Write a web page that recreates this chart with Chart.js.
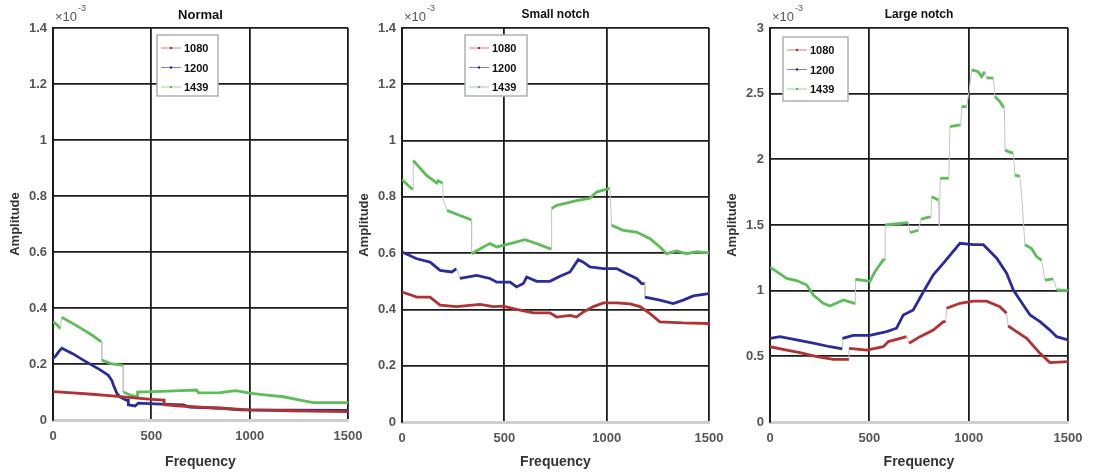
<!DOCTYPE html>
<html>
<head>
<meta charset="utf-8">
<script src="https://cdn.jsdelivr.net/npm/chart.js@4.4.1/dist/chart.umd.min.js"></script>
<style>
  body { margin: 0; background: #fff; width: 1093px; height: 475px; overflow: hidden; position: relative; }
  canvas { position: absolute; top: 0; }
</style>
</head>
<body>
<canvas id="c1" width="372" height="475" style="left:0px"></canvas>
<canvas id="c2" width="378" height="475" style="left:355px"></canvas>
<canvas id="c3" width="375" height="475" style="left:718px"></canvas>
<script>
const seriesNames = ['1080', '1200', '1439'];
const panelTitles = ['Normal', 'Small notch', 'Large notch'];
const xTicks = [0, 500, 1000, 1500];
const yTicksSmall = [0, 0.2, 0.4, 0.6, 0.8, 1, 1.2, 1.4];
const yTicksLarge = [0, 0.5, 1, 1.5, 2, 2.5, 3];

const normal1080 = [[0,0.101],[100,0.097],[200,0.092],[300,0.086],[400,0.080],[500,0.074],[565,0.071],[565,0.055],[650,0.050],[750,0.046],[850,0.042],[1000,0.036],[1200,0.033],[1500,0.030]];
const normal1200 = [[0,0.22],[15,0.23],[30,0.245],[45,0.256],[100,0.237],[154,0.214],[200,0.195],[240,0.179],[281,0.16],[300,0.14],[307,0.125],[325,0.095],[340,0.083],[372,0.071],[383,0.071],[383,0.054],[417,0.05],[434,0.06],[550,0.057],[662,0.054],[695,0.046],[866,0.042],[950,0.036],[1200,0.035],[1500,0.034]];
const normal1439 = [[0,0.351],[20,0.340],[38,0.327],[44,0.367],[100,0.345],[160,0.320],[205,0.300],[240,0.282],[248,0.282],[248,0.214],[300,0.200],[350,0.196],[357,0.196],[357,0.10],[390,0.09],[425,0.083],[430,0.083],[430,0.10],[550,0.102],[650,0.105],[730,0.107],[740,0.097],[850,0.098],[930,0.105],[1000,0.096],[1100,0.088],[1171,0.083],[1250,0.072],[1323,0.062],[1500,0.062]];

const small1080 = [[0,0.462],[40,0.452],[72,0.444],[137,0.444],[186,0.415],[267,0.41],[381,0.418],[446,0.41],[495,0.412],[560,0.40],[642,0.388],[723,0.388],[756,0.373],[821,0.379],[853,0.373],[886,0.391],[935,0.41],[984,0.423],[1049,0.423],[1114,0.42],[1163,0.41],[1212,0.385],[1260,0.356],[1374,0.352],[1500,0.35]];
const small1200 = [[0,0.604],[72,0.58],[137,0.568],[186,0.539],[243,0.533],[267,0.545],[283,0.51],[365,0.521],[430,0.51],[463,0.497],[528,0.497],[560,0.48],[593,0.492],[609,0.515],[658,0.50],[723,0.50],[772,0.518],[821,0.533],[861,0.577],[886,0.568],[918,0.551],[984,0.545],[1049,0.545],[1098,0.527],[1146,0.51],[1171,0.492],[1187,0.492],[1187,0.444],[1260,0.433],[1325,0.421],[1374,0.433],[1423,0.448],[1500,0.456]];
const small1439 = [[0,0.861],[47,0.829],[55,0.829],[55,0.929],[120,0.876],[170,0.849],[177,0.857],[198,0.849],[202,0.787],[220,0.752],[283,0.734],[336,0.719],[340,0.719],[340,0.598],[397,0.622],[430,0.634],[463,0.622],[528,0.634],[601,0.648],[658,0.634],[722,0.616],[731,0.616],[731,0.758],[756,0.77],[853,0.787],[918,0.795],[951,0.817],[1008,0.829],[1016,0.829],[1024,0.699],[1081,0.681],[1146,0.675],[1212,0.651],[1260,0.622],[1293,0.598],[1342,0.608],[1391,0.598],[1440,0.605],[1500,0.601]];

const large1080 = [[0,0.573],[84,0.548],[151,0.528],[235,0.497],[319,0.477],[398,0.477],[398,0.561],[487,0.548],[570,0.573],[596,0.612],[688,0.65],[700,0.60],[755,0.65],[822,0.70],[873,0.764],[885,0.764],[889,0.866],[956,0.904],[1023,0.92],[1090,0.92],[1157,0.878],[1191,0.828],[1199,0.731],[1241,0.688],[1292,0.637],[1359,0.523],[1409,0.452],[1500,0.459]];
const large1200 = [[0,0.637],[50,0.65],[134,0.625],[218,0.60],[302,0.573],[365,0.556],[365,0.637],[419,0.66],[503,0.66],[587,0.688],[637,0.714],[671,0.815],[721,0.853],[772,0.992],[822,1.12],[873,1.209],[956,1.361],[1023,1.35],[1074,1.35],[1141,1.247],[1191,1.133],[1225,1.005],[1275,0.891],[1309,0.815],[1359,0.764],[1409,0.70],[1443,0.65],[1500,0.625]];
const large1439 = [[0,1.179],[84,1.094],[134,1.077],[185,1.043],[218,0.967],[268,0.904],[302,0.883],[369,0.929],[425,0.904],[430,0.904],[430,1.087],[503,1.071],[528,1.145],[570,1.234],[580,1.234],[580,1.50],[696,1.518],[705,1.442],[747,1.46],[760,1.544],[797,1.56],[810,1.56],[814,1.716],[848,1.69],[852,1.487],[857,1.856],[889,1.856],[900,1.856],[906,2.249],[948,2.26],[960,2.26],[965,2.401],[990,2.401],[1002,2.516],[1015,2.681],[1048,2.668],[1065,2.63],[1082,2.668],[1090,2.62],[1124,2.618],[1132,2.478],[1157,2.44],[1174,2.40],[1180,2.40],[1183,2.07],[1216,2.05],[1225,2.05],[1233,1.88],[1258,1.87],[1266,1.74],[1275,1.54],[1283,1.35],[1317,1.32],[1342,1.259],[1367,1.23],[1384,1.08],[1426,1.09],[1444,1.005],[1500,1.0]];

const lineColors = ['#b03232', '#2b2b9c', '#5dbd58'];
const FONT = "'Liberation Sans', Arial, sans-serif";

// steep jumps are drawn as thin grey risers like in the original
function steep(ctx) {
    const dx = Math.abs(ctx.p1.x - ctx.p0.x);
    const dy = Math.abs(ctx.p1.y - ctx.p0.y);
    return dy > 5 && dy > dx * 2.5;
}

const decor = {
    id: 'decor',
    afterDraw(chart, args, opts) {
        const ctx = chart.ctx;
        const a = chart.chartArea;
        ctx.save();
        // title
        ctx.fillStyle = '#111';
        ctx.font = 'bold ' + opts.titleSize + 'px ' + FONT;
        ctx.textAlign = 'center';
        ctx.textBaseline = 'middle';
        ctx.fillText(opts.title, (a.left + a.right) / 2, a.top - 13);
        // exponent
        ctx.fillStyle = '#555';
        ctx.textAlign = 'left';
        ctx.font = '13px ' + FONT;
        ctx.fillText('\u00d710', a.left + 2, a.top - 11);
        const w = ctx.measureText('\u00d710').width;
        ctx.font = '9px ' + FONT;
        ctx.fillText('-3', a.left + 3 + w, a.top - 19);
        // axis titles
        ctx.fillStyle = '#333';
        ctx.font = 'bold 14px ' + FONT;
        ctx.textAlign = 'center';
        ctx.fillText('Frequency', (a.left + a.right) / 2, 462);
        ctx.save();
        ctx.translate(a.left - 38, (a.top + a.bottom) / 2);
        ctx.rotate(-Math.PI / 2);
        ctx.font = 'bold 13px ' + FONT;
        ctx.fillText('Amplitude', 0, 0);
        ctx.restore();
        // legend
        const lx = opts.legendX, ly = opts.legendY, lw = opts.legendW, lh = opts.legendH;
        ctx.fillStyle = '#fff';
        ctx.fillRect(lx, ly, lw, lh);
        ctx.strokeStyle = '#b0b0b0';
        ctx.lineWidth = 1.5;
        ctx.strokeRect(lx, ly, lw, lh);
        chart.data.datasets.forEach((ds, i) => {
            const yy = ly + 13 + i * 19.5;
            ctx.strokeStyle = ds.borderColor;
            ctx.globalAlpha = 0.6;
            ctx.lineWidth = 1;
            ctx.beginPath();
            ctx.moveTo(lx + 4, yy);
            ctx.lineTo(lx + 24, yy);
            ctx.stroke();
            ctx.globalAlpha = 1;
            ctx.fillStyle = ds.borderColor;
            ctx.beginPath();
            ctx.arc(lx + 14, yy, 1.3, 0, Math.PI * 2);
            ctx.fill();
            ctx.fillStyle = '#111';
            ctx.font = 'bold 11px ' + FONT;
            ctx.textAlign = 'left';
            ctx.fillText(ds.label, lx + 27, yy + 1);
        });
        ctx.restore();
    }
};

function fmt(v) {
    return String(Number(v.toFixed(2)));
}

function makePanel(id, title, series, yTicks, box) {
    const ymax = yTicks[yTicks.length - 1];
    new Chart(document.getElementById(id), {
        type: 'line',
        data: {
            datasets: series.map((s, i) => ({
                label: seriesNames[i],
                data: s.map(p => ({ x: p[0], y: p[1] })),
                borderColor: lineColors[i],
                borderWidth: 2.8,
                pointRadius: 0,
                tension: 0,
                segment: {
                    borderColor: c => steep(c) ? '#c4c4c4' : undefined,
                    borderWidth: c => steep(c) ? 1 : undefined
                }
            }))
        },
        plugins: [decor],
        options: {
            responsive: false,
            animation: false,
            devicePixelRatio: 1,
            layout: { padding: { top: 28, right: box.padRight, left: 0, bottom: 0 } },
            scales: {
                x: {
                    type: 'linear', min: 0, max: 1500,
                    afterBuildTicks: s => { s.ticks = xTicks.map(v => ({ value: v })); },
                    afterFit: s => { s.height = box.xHeight; },
                    ticks: { color: '#555', font: { family: FONT, size: 13, weight: 'bold' }, padding: 9, maxRotation: 0, autoSkip: false, callback: v => fmt(v) },
                    grid: { color: '#1c1c1c', lineWidth: 1.8, drawTicks: false },
                    border: { display: true, color: '#cfcfcf', width: 3 }
                },
                y: {
                    min: 0, max: ymax,
                    afterBuildTicks: s => { s.ticks = yTicks.map(v => ({ value: v })); },
                    afterFit: s => { s.width = box.yWidth; },
                    ticks: { color: '#555', font: { family: FONT, size: 13, weight: 'bold' }, padding: 6, callback: v => fmt(v) },
                    grid: { color: c => c.tick && c.tick.value === 0 ? '#cfcfcf' : '#1c1c1c', lineWidth: 1.8, drawTicks: false },
                    border: { display: true, color: '#1c1c1c', width: 2 }
                }
            },
            plugins: {
                legend: { display: false },
                tooltip: { enabled: false },
                decor: {
                    title: title, titleSize: box.titleSize,
                    legendX: box.legendX, legendY: box.legendY, legendW: box.legendW, legendH: box.legendH
                }
            }
        }
    });
}

makePanel('c1', panelTitles[0], [normal1080, normal1200, normal1439], yTicksSmall,
    { yWidth: 53, padRight: 24, xHeight: 55, titleSize: 13, legendX: 157, legendY: 35, legendW: 61, legendH: 61 });
makePanel('c2', panelTitles[1], [small1080, small1200, small1439], yTicksSmall,
    { yWidth: 47, padRight: 24, xHeight: 53, titleSize: 12, legendX: 110, legendY: 35, legendW: 62, legendH: 61 });
makePanel('c3', panelTitles[2], [large1080, large1200, large1439], yTicksLarge,
    { yWidth: 52, padRight: 25, xHeight: 53, titleSize: 12, legendX: 65, legendY: 37, legendW: 65, legendH: 64 });
</script>
</body>
</html>
